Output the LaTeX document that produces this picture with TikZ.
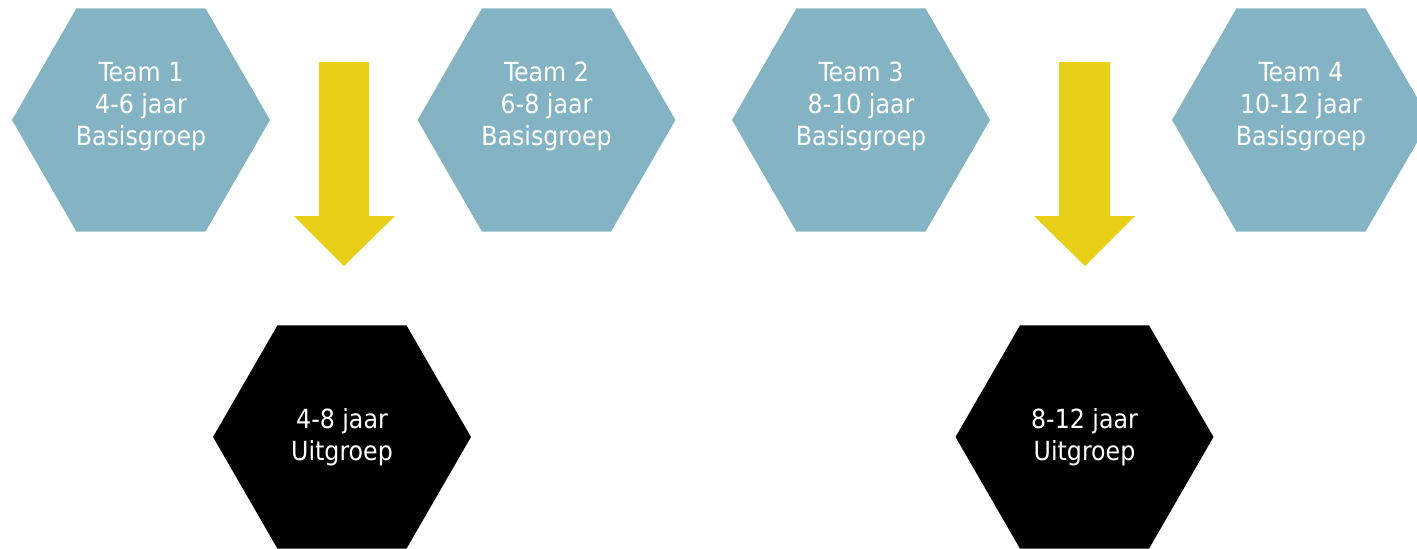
\documentclass[tikz,border=0pt]{standalone}
\usepackage{fontspec}
\setmainfont{DejaVu Sans Condensed}
\usetikzlibrary{shapes.geometric}
\definecolor{teamblue}{HTML}{84B4C4}
\definecolor{arrowyellow}{HTML}{E8D019}

\begin{document}
\begin{tikzpicture}[x=0.02cm,y=-0.02cm]
\tikzstyle{team} = [regular polygon, regular polygon sides=6, minimum size=5.16cm, inner sep=0pt, outer sep=0pt, fill=teamblue, text=white, align=center, font=\fontsize{15}{18.2}\selectfont]
\tikzstyle{uitgroep} = [team, fill=black]
\tikzstyle{downarrow} = [fill=arrowyellow]

\useasboundingbox (0,0) rectangle (1417,548);
\clip (0,0) rectangle (1417,548);

\node [team] (t1) at (141,120) {Team 1\\4-6 jaar\\Basisgroep\\~};
\node [team] (t2) at (546.5,120) {Team 2\\6-8 jaar\\Basisgroep\\~};
\node [team] (t3) at (861,120) {Team 3\\8-10 jaar\\Basisgroep\\~};
\node [team] (t4) at (1301,120) {Team 4\\10-12 jaar\\Basisgroep\\~};

\node [uitgroep] (u1) at (342,437) {4-8 jaar\\Uitgroep};
\node [uitgroep] (u2) at (1084.5,437) {8-12 jaar\\Uitgroep};

\fill [downarrow] (319,62) -- (369,62) -- (369,216) -- (395,216) -- (344,266) -- (294,216) -- (319,216) -- cycle;
\fill [downarrow] (1059,62) -- (1110,62) -- (1110,216) -- (1135,216) -- (1085,266) -- (1034,216) -- (1059,216) -- cycle;
\end{tikzpicture}
\end{document}
